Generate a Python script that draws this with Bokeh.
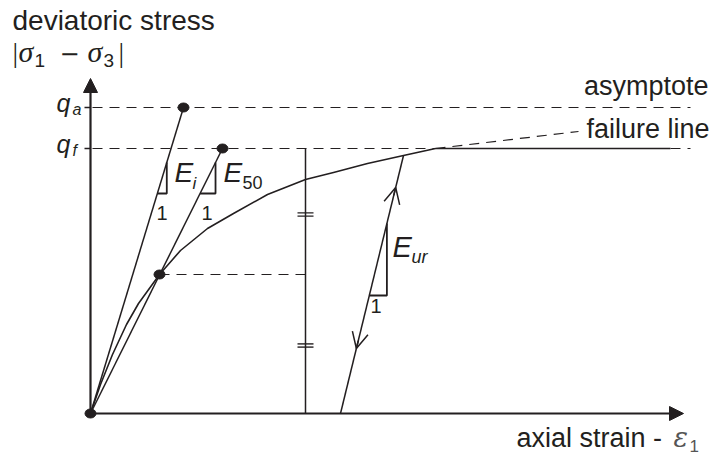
from bokeh.plotting import figure
from bokeh.models import Range1d, Arrow, NormalHead, OpenHead
from bokeh.core.properties import value
from bokeh.embed import file_html
from bokeh.resources import INLINE

# ---- data (schematic units: strain eps, deviatoric stress q) ----
eps_curve = [0, 10, 22, 36, 48, 69, 90, 117, 143, 177, 215, 243, 277, 313, 345]
q_curve = [0, 29, 59, 89, 110, 139, 163, 185, 200, 219, 234, 241, 250, 258, 265]

q_a = 306          # asymptotic stress
q_f = 265          # failure stress
q_50 = 139         # 50 % stress point
eps_at_qa = 93     # E_i secant reaches q_a here
eps_at_qf = 132    # E_50 secant reaches q_f here
E_i = q_a / eps_at_qa
E_50 = q_f / eps_at_qf

eps_unload = 313   # unloading point on curve
q_unload = 258
eps_residual = 250 # unloading line meets strain axis
E_ur = q_unload / (eps_unload - eps_residual)

eps_fail_end = 580        # end of failure plateau
eps_asym_ext = 488        # end of dashed continuation of hyperbola
q_asym_ext = 282
eps_line_end = 600        # end of dashed horizontal lines
eps_axis_max = 593
q_axis_max = 335

eps_mark = 215            # vertical marker line
q_breaks = [199, 68]      # double-tick break marks
tri_i = (220, 251)        # q range of E_i slope triangle
tri_50 = (220, 251)
tri_ur = (118, 190)
q_arrow_up = 226
q_arrow_down = 65

INK = "#231f20"

p = figure(width=713, height=455, x_range=Range1d(-90, 623), y_range=Range1d(-42, 413),
           output_backend="svg", toolbar_location=None, min_border=0,
           x_axis_location=None, y_axis_location=None)
p.grid.visible = False
p.outline_line_color = None
p.background_fill_color = "white"

# dashed horizontal lines
for q in (q_a, q_f):
    p.line([2, eps_line_end], [q, q], line_color=INK, line_width=1.2, line_dash="10 7")
    p.line([-6, 0], [q, q], line_color=INK, line_width=1.5)
# dashed q50 line
p.line([eps_curve[5], eps_mark], [q_50, q_50], line_color=INK, line_width=1.2, line_dash="10 7")
# dashed continuation of hyperbola
p.line([eps_curve[-1], eps_asym_ext], [q_curve[-1], q_asym_ext], line_color=INK,
       line_width=1.2, line_dash="10 7")

# stress-strain curve and failure plateau
p.line(eps_curve, q_curve, line_color=INK, line_width=1.6, line_join="round")
p.line([eps_curve[-1], eps_fail_end], [q_f, q_f], line_color=INK, line_width=1.6)

# secant lines
p.line([0, eps_at_qa], [0, q_a], line_color=INK, line_width=1.5)
p.line([0, eps_at_qf], [0, q_f], line_color=INK, line_width=1.5)

# vertical marker with break ticks
p.line([eps_mark, eps_mark], [0, q_f], line_color=INK, line_width=1.5)
for qb in q_breaks:
    for d in (-1.6, 1.6):
        p.line([eps_mark - 8, eps_mark + 8], [qb + d, qb + d], line_color=INK, line_width=1.4)

# unloading/reloading line
p.line([eps_residual, eps_unload], [0, q_unload], line_color=INK, line_width=1.5)


def slope_triangle(eps0, E, qr):
    lo, hi = qr
    xs = [eps0 + lo / E, eps0 + hi / E, eps0 + hi / E]
    ys = [lo, lo, hi]
    p.line(xs, ys, line_color=INK, line_width=1.8)


slope_triangle(0, E_i, tri_i)
slope_triangle(0, E_50, tri_50)
slope_triangle(eps_residual, E_ur, tri_ur)

# arrows on unloading line
L = (1 + E_ur ** 2) ** 0.5
ux, uy = 1 / L, E_ur / L
for qa_, sgn in ((q_arrow_up, 1), (q_arrow_down, -1)):
    xe = eps_residual + qa_ / E_ur
    p.add_layout(Arrow(end=OpenHead(size=16, line_color=INK, line_width=1.5),
                       x_start=xe - sgn * 8 * ux, y_start=qa_ - sgn * 8 * uy,
                       x_end=xe, y_end=qa_, line_color=INK, line_width=1.5))

# axes with filled arrows
p.add_layout(Arrow(end=NormalHead(size=14, fill_color=INK, line_color=INK),
                   x_start=0, y_start=0, x_end=0, y_end=q_axis_max, line_color=INK, line_width=2.2))
p.add_layout(Arrow(end=NormalHead(size=14, fill_color=INK, line_color=INK),
                   x_start=0, y_start=0, x_end=eps_axis_max, y_end=0, line_color=INK, line_width=2.2))

# dots
p.ellipse([0, eps_at_qa, eps_at_qf, eps_curve[5]], [0, q_a, q_f, q_50], width=11, height=9,
          fill_color=INK, line_color=INK)


def label(x, y, s, size, italic=False, font="Liberation Sans", align="left", color=INK):
    # y is the intended baseline; compensate the renderer's baseline shift
    p.text([x], [y + 0.36 * size], text=[s], text_font=value(font),
           text_font_size=value(f"{size}px"),
           text_font_style="italic" if italic else "normal", text_align=align,
           text_baseline="alphabetic", text_color=color)


# y axis title
label(-78, 383, "deviatoric stress", 28)
label(-78, 351, "|", 28, font="Liberation Serif")
label(-72, 351, "σ", 30, italic=True, font="Liberation Serif")
label(-56, 346, "1", 19)
label(-31, 352, "−", 24, font="DejaVu Sans")
label(-3, 351, "σ", 30, italic=True, font="Liberation Serif")
label(13, 346, "3", 19)
label(28, 351, "|", 28, font="Liberation Serif")

# q labels
label(-34, q_a - 4.5, "q", 25, italic=True)
label(-18, q_a - 8, "a", 16, italic=True)
label(-34, q_f - 4.5, "q", 25, italic=True)
label(-18, q_f - 8, "f", 16, italic=True)

# right-hand labels
label(618, 318, "asymptote", 27, align="right")
label(619, 275, "failure line", 27, align="right")

# stiffness labels
label(84, 231, "E", 28, italic=True)
label(102, 224, "i", 17, italic=True)
label(133, 231, "E", 28, italic=True)
label(152, 225, "50", 18)
label(66, 193, "1", 20)
label(111, 193, "1", 20)
label(302, 156, "E", 29, italic=True)
label(321, 150, "ur", 18, italic=True)
label(280, 100, "1", 20)

# x axis title
label(426, -34, "axial strain - ", 27)
label(583, -34, "ε", 27, italic=True, font="DejaVu Serif", color="#555555")
label(599, -39, "1", 17, color="#555555")

open("out.html", "w").write(file_html(p, INLINE))
